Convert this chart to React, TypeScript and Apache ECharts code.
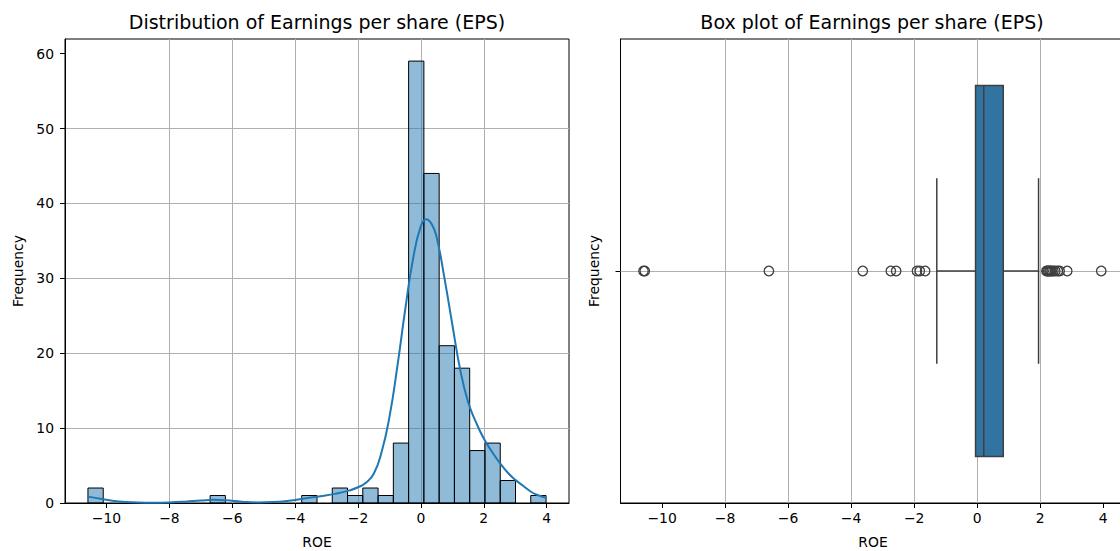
import React, { useEffect, useRef } from "react";
import * as echarts from "echarts";

// ---- data ----
const X_TICKS = [-10, -8, -6, -4, -2, 0, 2, 4];
const Y_TICKS = [0, 10, 20, 30, 40, 50, 60];
const X_MIN = -11.32;
const X_MAX = 4.71;
const Y_MAX = 61.95;

const BIN_MIN = -10.59;
const BIN_MAX = 3.98;
const BIN_COUNTS = [2, 0, 0, 0, 0, 0, 0, 0, 1, 0, 0, 0, 0, 0, 1, 0, 2, 1, 2, 1, 8, 59, 44, 21, 18, 7, 8, 3, 0, 1];

const KDE_X = [-10.6, -10.1, -9.6, -9.0, -8.5, -8.0, -7.5, -7.0, -6.6, -6.2, -5.7, -5.2, -4.7, -4.2, -3.7, -3.2, -2.7, -2.3, -2.0, -1.75, -1.5, -1.25, -1.0, -0.75, -0.5, -0.25, 0.0, 0.17, 0.35, 0.5, 0.75, 1.0, 1.25, 1.5, 1.75, 2.0, 2.25, 2.5, 2.75, 3.0, 3.25, 3.5, 3.75, 3.98];
const KDE_Y = [0.85, 0.5, 0.2, 0.08, 0.05, 0.08, 0.18, 0.33, 0.42, 0.36, 0.18, 0.08, 0.12, 0.3, 0.6, 0.9, 1.25, 1.65, 2.1, 2.7, 3.9, 6.8, 11.5, 18.2, 25.8, 32.6, 37.0, 37.9, 37.2, 35.5, 30.0, 23.8, 17.8, 13.5, 10.8, 8.6, 6.9, 5.4, 4.1, 3.1, 2.3, 1.5, 1.0, 0.7];

// whisker low, Q1, median, Q3, whisker high
const BOX = [-1.28, -0.05, 0.21, 0.83, 1.95];
const OUTLIERS = [-10.59, -10.55, -6.61, -3.63, -2.74, -2.57, -1.91, -1.82, -1.65, 2.2, 2.23, 2.26, 2.3, 2.33, 2.37, 2.42, 2.48, 2.56, 2.62, 2.86, 3.94];

const TITLE_LEFT = "Distribution of Earnings per share (EPS)";
const TITLE_RIGHT = "Box plot of Earnings per share (EPS)";
const X_NAME = "ROE";
const Y_NAME = "Frequency";

// ---- styles ----
const FONT = "DejaVu Sans";
const TICK_FS = 13.9;
const TITLE_FS = 19;
const TEXT = "#000";
const GRID_C = "#b0b0b0";
const KDE_C = "#1f77b4";
const BAR_FILL = "rgba(31,119,180,0.5)";
const BOX_FILL = "#3274a1";
const BOX_LINE = "#3f3f3f";

export default function App() {
  const ref = useRef<HTMLDivElement>(null);

  useEffect(() => {
    if (!ref.current) return;
    const chart = echarts.init(ref.current, undefined, { renderer: "svg" });

    const nBins = BIN_COUNTS.length;
    const bw = (BIN_MAX - BIN_MIN) / nBins;
    const histData = BIN_COUNTS.map((c, i) => [BIN_MIN + i * bw, BIN_MIN + (i + 1) * bw, c]).filter((d) => d[2] > 0);
    const kdeData = KDE_X.map((x, i) => [x, KDE_Y[i]]);
    const outData = OUTLIERS.map((x) => [x, 0]);

    const xAxisBase = (gridIndex: number) => ({
      type: "value",
      gridIndex,
      min: X_MIN,
      max: X_MAX,
      minInterval: 2,
      maxInterval: 2,
      name: X_NAME,
      nameLocation: "middle",
      nameGap: 32,
      nameTextStyle: { fontFamily: FONT, fontSize: TICK_FS, color: TEXT },
      axisLine: { show: true, onZero: false, lineStyle: { color: "#000", width: 1 } },
      axisTick: { show: true, customValues: X_TICKS, length: 5, lineStyle: { color: "#000", width: 1 } },
      axisLabel: {
        show: true,
        customValues: X_TICKS,
        margin: 8,
        fontFamily: FONT,
        fontSize: TICK_FS,
        color: TEXT,
        formatter: (v: number) => (v < 0 ? "\u2212" + Math.abs(v) : String(v)),
      },
      splitLine: { show: true, showMinLine: false, showMaxLine: false, lineStyle: { color: GRID_C, width: 1 } },
    });

    const option: any = {
      animation: false,
      textStyle: { fontFamily: FONT },
      grid: [
        { left: 65, top: 39, width: 504, height: 464, outerBoundsMode: "none", containLabel: false, show: true, borderColor: "#000", borderWidth: 1, backgroundColor: "transparent" },
        { left: 620.5, top: 39, width: 505, height: 464, outerBoundsMode: "none", containLabel: false, show: true, borderColor: "#000", borderWidth: 1, backgroundColor: "transparent" },
      ],
      graphic: [
        { type: "text", x: 317, y: 12, style: { text: TITLE_LEFT, align: "center", verticalAlign: "top", fontFamily: FONT, fontSize: TITLE_FS, fill: TEXT } },
        { type: "text", x: 872, y: 12, style: { text: TITLE_RIGHT, align: "center", verticalAlign: "top", fontFamily: FONT, fontSize: TITLE_FS, fill: TEXT } },
      ],
      xAxis: [xAxisBase(0), xAxisBase(1)],
      yAxis: [
        {
          type: "value",
          gridIndex: 0,
          min: 0,
          max: Y_MAX,
          minInterval: 10,
          maxInterval: 10,
          name: Y_NAME,
          nameLocation: "middle",
          nameGap: 40,
          nameTextStyle: { fontFamily: FONT, fontSize: TICK_FS, color: TEXT },
          axisLine: { show: true, onZero: false, lineStyle: { color: "#000", width: 1 } },
          axisTick: { show: true, customValues: Y_TICKS, length: 5, lineStyle: { color: "#000", width: 1 } },
          axisLabel: { show: true, customValues: Y_TICKS, margin: 11, fontFamily: FONT, fontSize: TICK_FS, color: TEXT },
          splitLine: { show: true, showMinLine: false, showMaxLine: false, lineStyle: { color: GRID_C, width: 1 } },
        },
        {
          type: "value",
          gridIndex: 1,
          min: -0.5,
          max: 0.5,
          name: Y_NAME,
          nameLocation: "middle",
          nameGap: 20,
          nameTextStyle: { fontFamily: FONT, fontSize: TICK_FS, color: TEXT },
          axisLine: { show: true, onZero: false, lineStyle: { color: "#000", width: 1 } },
          axisTick: { show: true, customValues: [0], length: 5, lineStyle: { color: "#000", width: 1 } },
          axisLabel: { show: false },
          splitLine: { show: false },
        },
      ],
      series: [
        {
          type: "custom",
          xAxisIndex: 0,
          yAxisIndex: 0,
          z: 2,
          encode: { x: [0, 1], y: 2 },
          data: histData,
          renderItem: (params: any, api: any) => {
            const p0 = api.coord([api.value(0), 0]);
            const p1 = api.coord([api.value(1), api.value(2)]);
            return {
              type: "rect",
              shape: { x: p0[0], y: p1[1], width: p1[0] - p0[0], height: p0[1] - p1[1] },
              style: { fill: BAR_FILL, stroke: "#000", lineWidth: 1 },
            };
          },
        },
        {
          type: "line",
          xAxisIndex: 0,
          yAxisIndex: 0,
          z: 3,
          data: kdeData,
          showSymbol: false,
          symbol: "none",
          smooth: 0.5,
          lineStyle: { color: KDE_C, width: 2 },
        },
        {
          type: "scatter",
          xAxisIndex: 1,
          yAxisIndex: 1,
          z: 4,
          data: outData,
          symbol: "circle",
          symbolSize: 9.5,
          itemStyle: { color: "rgba(0,0,0,0)", borderColor: BOX_LINE, borderWidth: 1.3, opacity: 1 },
          markLine: {
            silent: true,
            symbol: ["none", "none"],
            label: { show: false },
            lineStyle: { color: GRID_C, width: 1, type: "solid" },
            data: [{ yAxis: 0 }],
            z: 1,
          },
        },
        {
          type: "custom",
          xAxisIndex: 1,
          yAxisIndex: 1,
          z: 5,
          encode: { x: [0, 1, 2, 3, 4] },
          data: [BOX],
          renderItem: (params: any, api: any) => {
            const lo = api.value(0), q1 = api.value(1), med = api.value(2), q3 = api.value(3), hi = api.value(4);
            const c = (x: number, y: number) => api.coord([x, y]);
            const ls = { stroke: BOX_LINE, lineWidth: 1.5 };
            const line = (a: number[], b: number[]) => ({ type: "line", shape: { x1: a[0], y1: a[1], x2: b[0], y2: b[1] }, style: ls });
            const top = c(q1, 0.4);
            const bot = c(q3, -0.4);
            return {
              type: "group",
              children: [
                line(c(lo, 0), c(q1, 0)),
                line(c(q3, 0), c(hi, 0)),
                line(c(lo, -0.2), c(lo, 0.2)),
                line(c(hi, -0.2), c(hi, 0.2)),
                {
                  type: "rect",
                  shape: { x: top[0], y: top[1], width: bot[0] - top[0], height: bot[1] - top[1] },
                  style: { fill: BOX_FILL, stroke: BOX_LINE, lineWidth: 1.5 },
                },
                line(c(med, -0.4), c(med, 0.4)),
              ],
            };
          },
        },
      ],
    };

    chart.setOption(option);
    return () => chart.dispose();
  }, []);

  return <div ref={ref} style={{ position: "absolute", left: 0, top: 0, width: 1120, height: 551 }} />;
}
